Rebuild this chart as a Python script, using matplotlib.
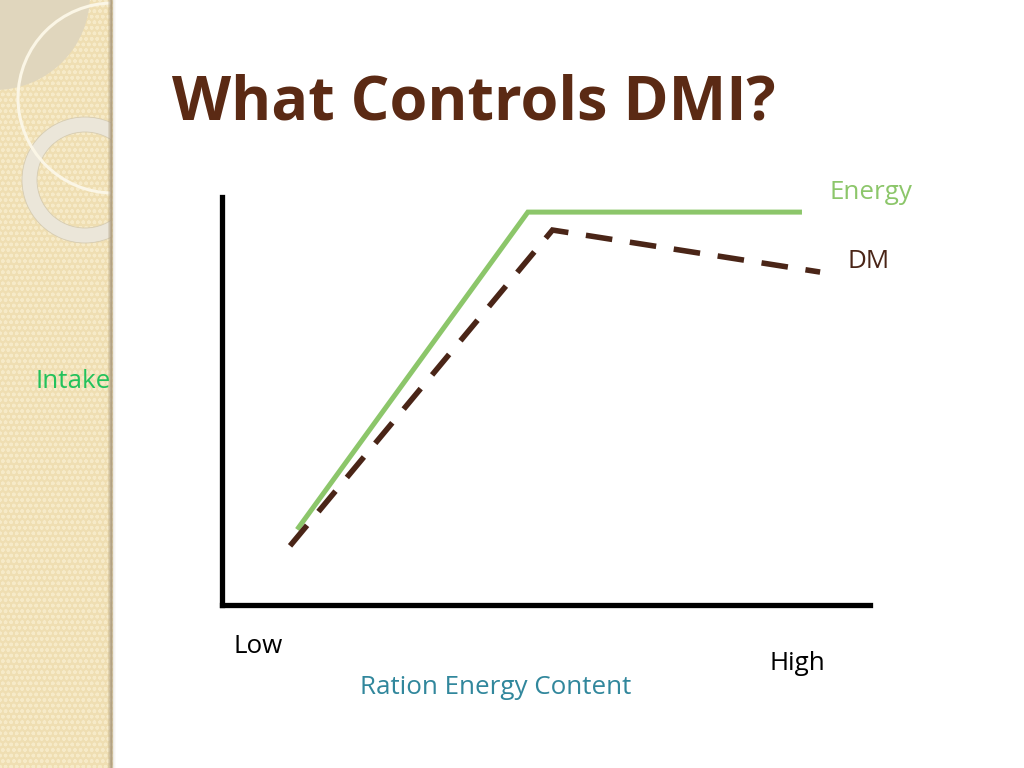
import matplotlib
matplotlib.use("Agg")
import matplotlib.pyplot as plt
import numpy as np
from matplotlib.patches import Rectangle, Circle, Wedge

# ---- data ----
energy_x = [1.16, 4.72, 8.95]
energy_y = [1.85, 9.63, 9.63]
dm_x = [1.05, 5.10, 9.23]
dm_y = [1.45, 9.19, 8.16]

title = "What Controls DMI?"
y_label = "Intake"
x_label = "Ration Energy Content"
x_low, x_high = "Low", "High"
series_names = ["Energy", "DM"]

W, H = 1024, 768
fig = plt.figure(figsize=(W / 100, H / 100), dpi=100)
fig.patch.set_facecolor("white")

# background / decoration axes in pixel coords
bg = fig.add_axes([0, 0, 1, 1])
bg.set_xlim(0, W)
bg.set_ylim(H, 0)
bg.axis("off")

strip_w = 113
strip = Rectangle((0, 0), strip_w, H, facecolor="#efdeb2", edgecolor="none", zorder=0)
bg.add_patch(strip)
pat = Rectangle((0, 0), strip_w, H, facecolor="none", edgecolor="#f6eac8",
                hatch="ooo", linewidth=0, zorder=0.5)
bg.add_patch(pat)
# shadow edge
shade = [0.25, 0.45, 0.7, 0.85, 0.5]
for i, a in enumerate(shade):
    bg.add_patch(Rectangle((strip_w - 5 + i, 0), 1, H, facecolor="#a8977a",
                           alpha=a, edgecolor="none", zorder=1))
for i, a in enumerate([0.25, 0.12, 0.05]):
    bg.add_patch(Rectangle((strip_w + i, 0), 1, H, facecolor="#b5a88e",
                           alpha=a, edgecolor="none", zorder=1))

clip = Rectangle((0, 0), strip_w - 2, H, transform=bg.transData)
disk = Circle((-5, -5), 95, facecolor="#e0d6bd", edgecolor="none", zorder=0.8)
bg.add_patch(disk)
disk.set_clip_path(clip)
thin = Circle((113, 98), 95, facecolor="none", edgecolor="#fbf6e6", linewidth=2.2, zorder=0.9)
bg.add_patch(thin)
thin.set_clip_path(clip)
ring = Wedge((85, 180), 63, 0, 360, width=15, facecolor="#ebe6d9",
             edgecolor="#d6ccb2", linewidth=0.6, zorder=0.85)
bg.add_patch(ring)
ring.set_clip_path(clip)

fam = ["Open Sans", "DejaVu Sans"]
fs = 18.7
bg.text(172, 120, title, fontsize=44, fontweight="bold", color="#5b2a14",
        family=fam, va="baseline", ha="left")
bg.text(36, 388, y_label, fontsize=fs, color="#22c25c", family=fam, va="baseline")
bg.text(233, 653, x_low, fontsize=fs, color="black", family=fam, va="baseline")
bg.text(770, 670, x_high, fontsize=fs, color="black", family=fam, va="baseline")
bg.text(360, 694, x_label, fontsize=fs, color="#31879c", family=fam, va="baseline")
bg.text(830, 199, series_names[0], fontsize=fs, color="#8cc66a", family=fam, va="baseline")
bg.text(847, 268, series_names[1], fontsize=fs, color="#4a2517", family=fam, va="baseline")

# main chart axes
left, right, top, bottom = 222, 870, 197, 605
ax = fig.add_axes([left / W, (H - bottom) / H, (right - left) / W, (bottom - top) / H])
ax.set_xlim(0, 10)
ax.set_ylim(0, 10)
ax.patch.set_alpha(0)
for s in ["top", "right"]:
    ax.spines[s].set_visible(False)
for s in ["left", "bottom"]:
    ax.spines[s].set_linewidth(3.8)
    ax.spines[s].set_color("black")
    ax.spines[s].set_capstyle("projecting")
ax.set_xticks([])
ax.set_yticks([])

ax.plot(energy_x, energy_y, color="#8cc66a", linewidth=3.6, solid_joinstyle="miter",
        solid_capstyle="butt", zorder=2)
ax.plot(dm_x, dm_y, color="#4a2517", linewidth=4.0, dashes=(4.8, 3.2),
        dash_capstyle="butt", dash_joinstyle="miter", zorder=3)

fig.savefig("out.png", dpi=100, facecolor="white")
